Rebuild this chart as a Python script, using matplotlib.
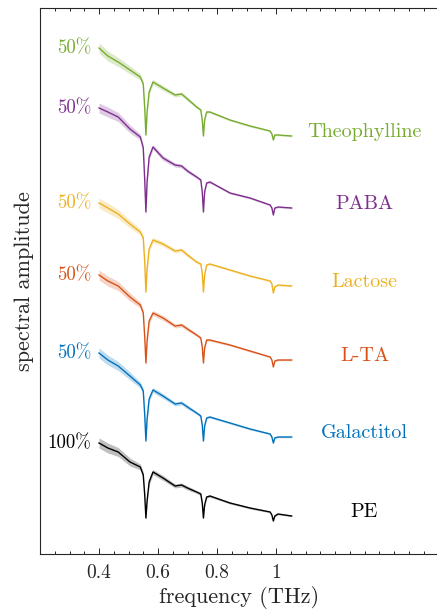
import numpy as np
import matplotlib as mpl
from matplotlib import pyplot as plt
from matplotlib.ticker import MultipleLocator

freq = [0.400, 0.430, 0.465, 0.505, 0.540, 0.550, 0.555, 0.559, 0.563, 0.570,
        0.583, 0.617, 0.658, 0.680, 0.700, 0.731, 0.745, 0.750, 0.754, 0.758,
        0.765, 0.776, 0.844, 0.912, 0.980, 0.986, 0.991, 0.996, 1.007, 1.053]

# spectral amplitude (a.u., already stacked)
theophylline = [506, 498, 492, 484, 477, 470, 446, 419, 442, 462,
                472, 466, 459, 460, 455, 447, 444, 434, 418, 434,
                442, 442, 434, 428, 423, 420, 414, 419, 419, 418]
paba = [446, 442, 437, 425, 417, 406, 374, 342, 372, 397,
        407, 396, 389, 388, 383, 377, 374, 362, 342, 362,
        371, 372, 361, 356, 349, 346, 339, 346, 347, 346]
lactose = [351, 346, 340, 330, 322, 316, 292, 262, 285, 305,
           314, 310, 303, 304, 299, 292, 290, 281, 262, 279,
           289, 290, 284, 278, 273, 270, 261, 267, 269, 268]
lta = [279, 273, 268, 257, 249, 241, 217, 191, 213, 233,
       241, 236, 228, 229, 225, 219, 216, 207, 191, 206,
       214, 214, 209, 203, 197, 194, 187, 193, 194, 194]
galactitol = [201, 194, 188, 178, 169, 163, 139, 113, 135, 155,
              164, 158, 150, 151, 147, 141, 138, 129, 113, 128,
              136, 137, 131, 125, 120, 117, 111, 116, 117, 117]
pe = [111, 106, 102, 92, 87, 79, 59, 36, 53, 72,
      82, 76, 68, 69, 66, 62, 60, 51, 36, 49,
      57, 58, 51, 46, 42, 39, 33, 38, 40, 38]

# half width of the shaded spread around each spectrum
spread = [5.0, 5.0, 4.5, 4.0, 3.0, 3.0, 3.0, 3.0, 3.0, 3.0,
          2.5, 2.5, 2.0, 2.0, 2.0, 1.5, 1.5, 1.5, 1.5, 1.5,
          1.2, 1.2, 1.0, 1.0, 0.8, 0.8, 0.8, 0.8, 0.8, 0.8]

names = ["Theophylline", "PABA", "Lactose", "L-TA", "Galactitol", "PE"]
fractions = ["50%", "50%", "50%", "50%", "50%", "100%"]
colors = ["#77AC30", "#7E2F8E", "#EDB120", "#D95319", "#0072BD", "#000000"]

plt.rcParams.update({
    "font.family": "cmr10",
    "mathtext.fontset": "cm",
    "axes.formatter.use_mathtext": True,
    "axes.unicode_minus": False,
})
axcolor = "#262626"

fig = plt.figure(figsize=(4.37, 6.13), dpi=100)
# axes runs past the right edge of the figure, as in the cropped original
ax = fig.add_axes([40 / 437, 59 / 613, 472 / 437, 546 / 613])

series = [theophylline, paba, lactose, lta, galactitol, pe]
f = np.array(freq)
s = np.array(spread)
for name, frac, color, values in zip(names, fractions, colors, series):
    y = np.array(values, dtype=float)
    ax.fill_between(f, y - s, y + s, color=color, alpha=0.25, lw=0)
    ax.plot(f, y, color=color, lw=1.0)
    ax.text(0.375, y[0], frac, color=color, fontsize=13.5,
            ha="right", va="center")
    ax.text(1.30, y[-1] + 4, name, color=color, fontsize=14.5,
            ha="center", va="center")

ax.set_xlim(0.2, 0.2 + 472 / 295)
ax.set_ylim(0, 546)
ax.set_xticks([0.4, 0.6, 0.8, 1.0])
ax.set_xticklabels(["0.4", "0.6", "0.8", "1"])
ax.xaxis.set_minor_locator(MultipleLocator(0.05))
ax.set_yticks([])
ax.tick_params(axis="x", which="both", direction="in", top=True,
               colors=axcolor, labelsize=14, pad=7)
ax.tick_params(axis="x", which="major", length=4.5, width=0.7)
ax.tick_params(axis="x", which="minor", length=2.5, width=0.7)
for sp in ax.spines.values():
    sp.set_color(axcolor)
    sp.set_linewidth(0.8)
ax.spines["right"].set_visible(False)

ax.set_xlabel("frequency (THz)", fontsize=16, color=axcolor)
ax.xaxis.set_label_coords((239 - 40) / 472, -0.058)
ax.set_ylabel("spectral amplitude", fontsize=16, color=axcolor, labelpad=4)

fig.savefig("out.png", dpi=100)
